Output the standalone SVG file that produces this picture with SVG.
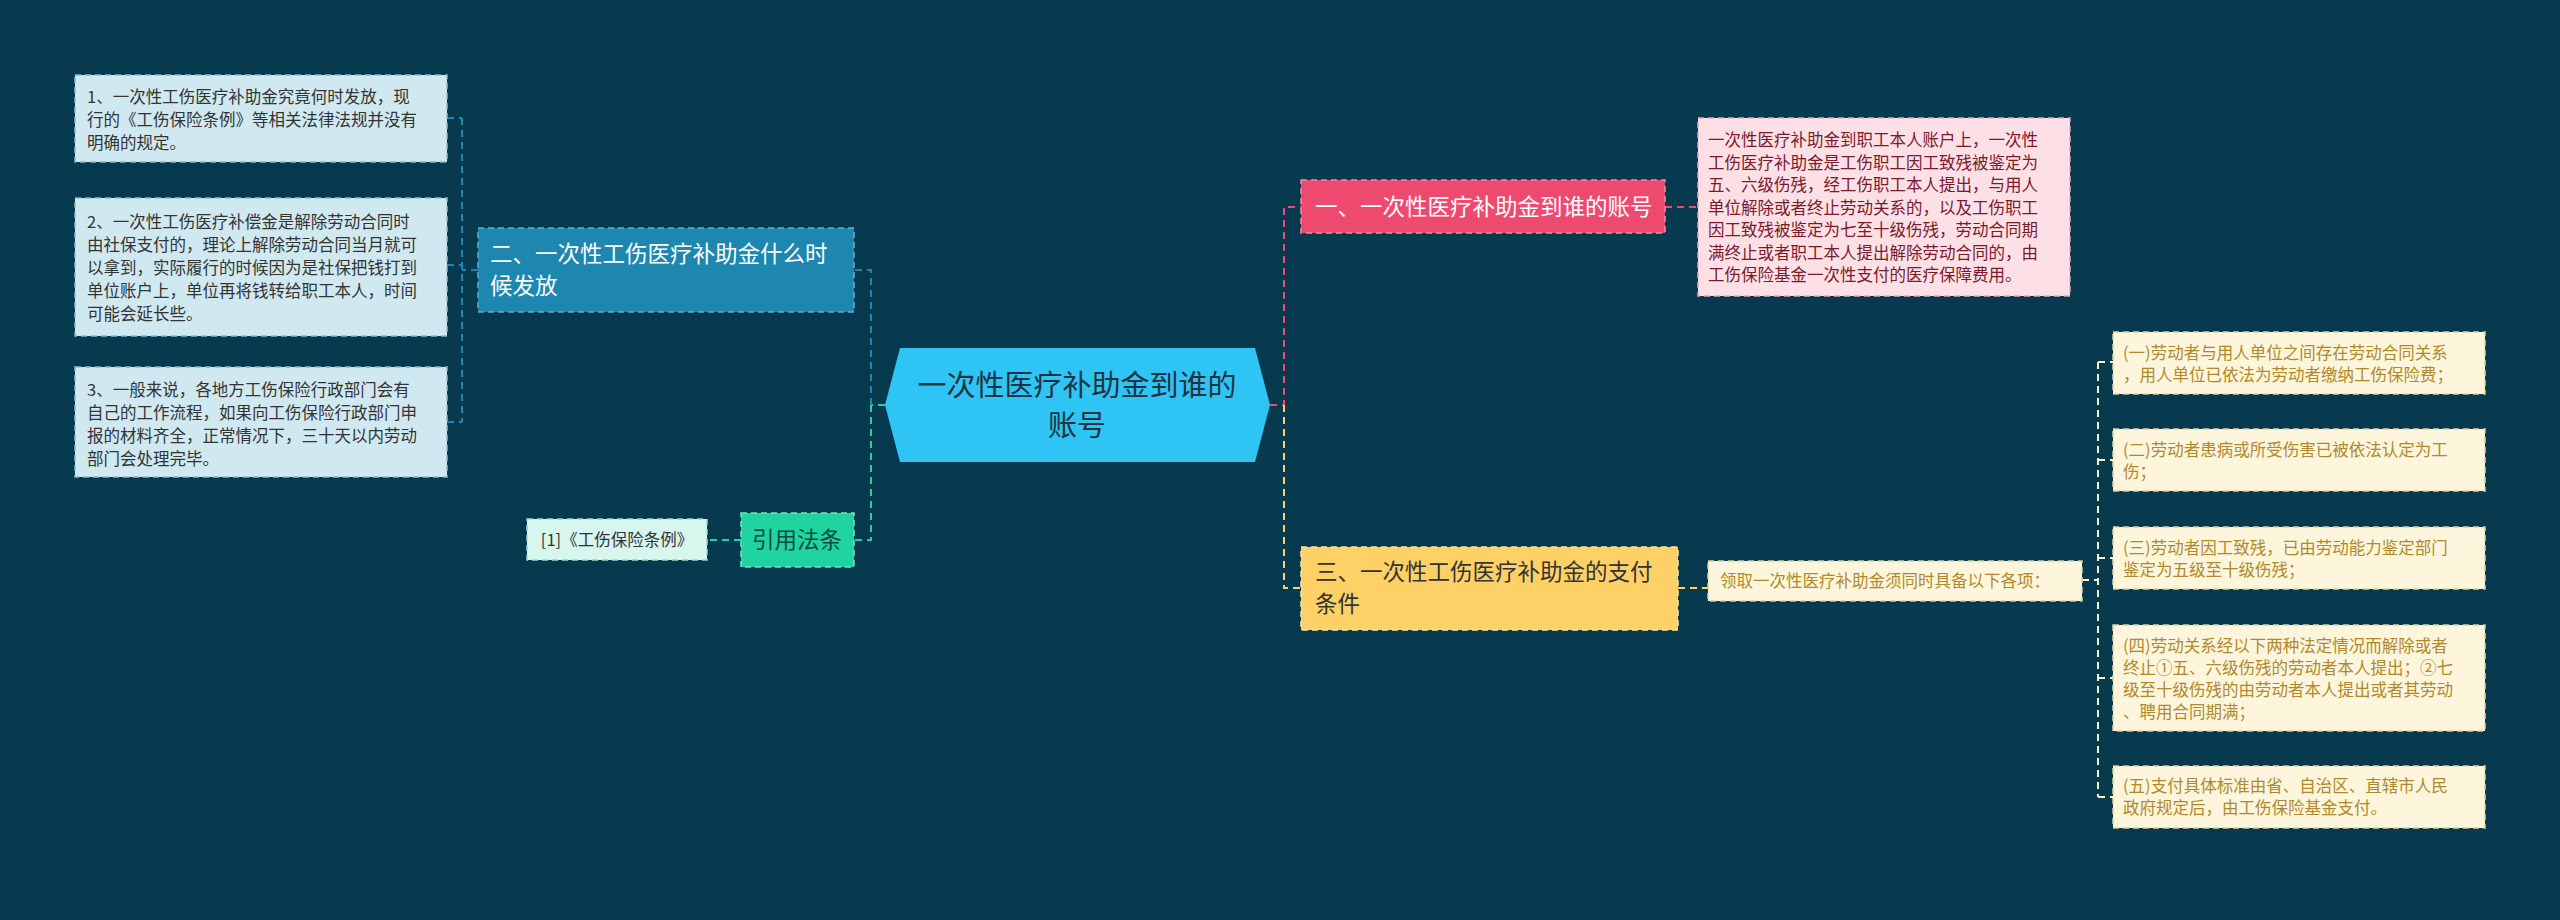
<svg xmlns="http://www.w3.org/2000/svg" width="2560" height="920" viewBox="0 0 2560 920">
<style>
text{font-family:"Noto Sans CJK SC","Liberation Sans",sans-serif}
.sm{font-size:16.5px}
.big{font-size:22.5px}
.c{fill:none;stroke-width:2;stroke-dasharray:7 5}
.box{stroke-width:1.5;stroke-dasharray:6 4}
</style>
<rect width="2560" height="920" fill="#073a4e"/>
<g id="connectors">
<path class="c" stroke="#1fd4a0" d="M885 405H871"/>
<path class="c" stroke="#1d87b0" d="M871 405V270H854"/>
<path class="c" stroke="#1fd4a0" d="M871 405V540H854"/>
<path class="c" stroke="#1fd4a0" d="M741 540H707"/>
<path class="c" stroke="#1d87b0" d="M478 270H462M462 118V422M447 118H462M447 265H462M447 422H462"/>
<path class="c" stroke="#ee4a6f" d="M1270 405H1284V207H1301M1665 207H1698"/>
<path class="c" stroke="#fdd166" d="M1284 405V588H1301M1678 588H1708"/>
<path class="c" stroke="#fdf0c8" d="M2082 580H2098M2098 362V797M2098 362H2113M2098 460H2113M2098 558H2113M2098 678H2113M2098 797H2113"/>
</g>
<g id="center">
<polygon points="885,405 900,348 1255,348 1270,405 1255,462 900,462" fill="#2ec4f4"/>
<text x="1077" y="396" font-size="29" fill="#1f3340" text-anchor="middle">一次性医疗补助金到谁的</text>
<text x="1077" y="436" font-size="29" fill="#1f3340" text-anchor="middle">账号</text>
</g>
<g id="n2">
<rect x="478" y="228" width="376" height="84" fill="#1d87b0" class="box" stroke="#5fb0d0"/>
<text class="big" x="490" y="262" fill="#fff">二、一次性工伤医疗补助金什么时</text>
<text class="big" x="490" y="294" fill="#fff">候发放</text>
</g>
<g id="l1" class="sm" fill="#333">
<rect x="75" y="75" width="372" height="87" fill="#d0e9f0" class="box" stroke="#8ab8c8"/>
<text x="87" y="103">1、一次性工伤医疗补助金究竟何时发放，现</text>
<text x="87" y="126">行的《工伤保险条例》等相关法律法规并没有</text>
<text x="87" y="149">明确的规定。</text>
</g>
<g id="l2" class="sm" fill="#333">
<rect x="75" y="198" width="372" height="138" fill="#d0e9f0" class="box" stroke="#8ab8c8"/>
<text x="87" y="228">2、一次性工伤医疗补偿金是解除劳动合同时</text>
<text x="87" y="251">由社保支付的，理论上解除劳动合同当月就可</text>
<text x="87" y="274">以拿到，实际履行的时候因为是社保把钱打到</text>
<text x="87" y="297">单位账户上，单位再将钱转给职工本人，时间</text>
<text x="87" y="320">可能会延长些。</text>
</g>
<g id="l3" class="sm" fill="#333">
<rect x="75" y="367" width="372" height="110" fill="#d0e9f0" class="box" stroke="#8ab8c8"/>
<text x="87" y="396">3、一般来说，各地方工伤保险行政部门会有</text>
<text x="87" y="419">自己的工作流程，如果向工伤保险行政部门申</text>
<text x="87" y="442">报的材料齐全，正常情况下，三十天以内劳动</text>
<text x="87" y="465">部门会处理完毕。</text>
</g>
<g id="ref">
<rect x="741" y="513" width="113" height="54" fill="#1fd4a0" class="box" stroke="#6fe8c4"/>
<text class="big" x="797" y="548" fill="#0b4a3a" text-anchor="middle">引用法条</text>
</g>
<g id="ref1">
<rect x="527" y="519" width="180" height="41" fill="#d6f6ee" class="box" stroke="#9fd8c8"/>
<text class="sm" x="617" y="546" fill="#333" text-anchor="middle">[1]《工伤保险条例》</text>
</g>
<g id="n1">
<rect x="1301" y="180" width="364" height="53" fill="#ee4a6f" class="box" stroke="#f48aa2"/>
<text class="big" x="1315" y="215" fill="#fff">一、一次性医疗补助金到谁的账号</text>
</g>
<g id="d1" class="sm" fill="#7a1a2a">
<rect x="1698" y="118" width="372" height="178" fill="#fde0e6" class="box" stroke="#e8a8b6"/>
<text x="1708" y="146">一次性医疗补助金到职工本人账户上，一次性</text>
<text x="1708" y="169">工伤医疗补助金是工伤职工因工致残被鉴定为</text>
<text x="1708" y="191">五、六级伤残，经工伤职工本人提出，与用人</text>
<text x="1708" y="214">单位解除或者终止劳动关系的，以及工伤职工</text>
<text x="1708" y="236">因工致残被鉴定为七至十级伤残，劳动合同期</text>
<text x="1708" y="259">满终止或者职工本人提出解除劳动合同的，由</text>
<text x="1708" y="281">工伤保险基金一次性支付的医疗保障费用。</text>
</g>
<g id="n3">
<rect x="1301" y="547" width="377" height="83" fill="#fdd166" class="box" stroke="#fde39a"/>
<text class="big" x="1315" y="580" fill="#333">三、一次性工伤医疗补助金的支付</text>
<text class="big" x="1315" y="612" fill="#333">条件</text>
</g>
<g id="d3">
<rect x="1708" y="561" width="374" height="40" fill="#fdf5dc" class="box" stroke="#e0d0a0"/>
<text class="sm" x="1720" y="587" fill="#b08a2a">领取一次性医疗补助金须同时具备以下各项：</text>
</g>
<g id="i1" class="sm" fill="#b08a2a">
<rect x="2113" y="332" width="372" height="62" fill="#fdf5dc" class="box" stroke="#e0d0a0"/>
<text x="2123" y="359">(一)劳动者与用人单位之间存在劳动合同关系</text>
<text x="2123" y="381">，用人单位已依法为劳动者缴纳工伤保险费；</text>
</g>
<g id="i2" class="sm" fill="#b08a2a">
<rect x="2113" y="429" width="372" height="62" fill="#fdf5dc" class="box" stroke="#e0d0a0"/>
<text x="2123" y="456">(二)劳动者患病或所受伤害已被依法认定为工</text>
<text x="2123" y="478">伤；</text>
</g>
<g id="i3" class="sm" fill="#b08a2a">
<rect x="2113" y="527" width="372" height="62" fill="#fdf5dc" class="box" stroke="#e0d0a0"/>
<text x="2123" y="554">(三)劳动者因工致残，已由劳动能力鉴定部门</text>
<text x="2123" y="576">鉴定为五级至十级伤残；</text>
</g>
<g id="i4" class="sm" fill="#b08a2a">
<rect x="2113" y="625" width="372" height="106" fill="#fdf5dc" class="box" stroke="#e0d0a0"/>
<text x="2123" y="652">(四)劳动关系经以下两种法定情况而解除或者</text>
<text x="2123" y="674">终止①五、六级伤残的劳动者本人提出；②七</text>
<text x="2123" y="696">级至十级伤残的由劳动者本人提出或者其劳动</text>
<text x="2123" y="718">、聘用合同期满；</text>
</g>
<g id="i5" class="sm" fill="#b08a2a">
<rect x="2113" y="766" width="372" height="62" fill="#fdf5dc" class="box" stroke="#e0d0a0"/>
<text x="2123" y="792">(五)支付具体标准由省、自治区、直辖市人民</text>
<text x="2123" y="814">政府规定后，由工伤保险基金支付。</text>
</g>
</svg>
